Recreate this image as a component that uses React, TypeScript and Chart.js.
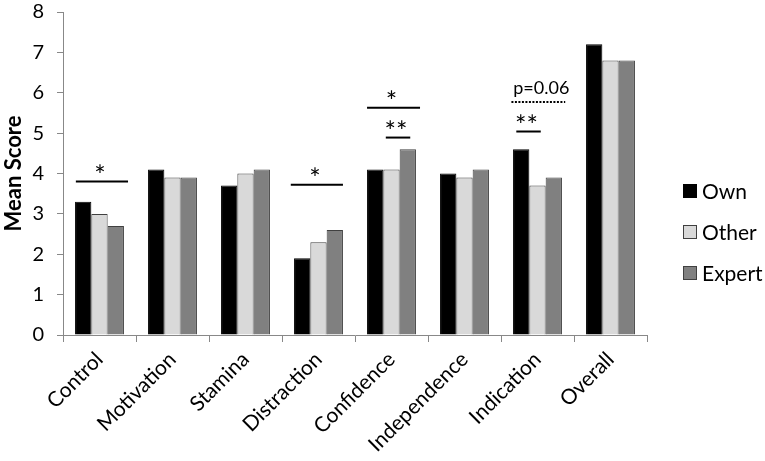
import { useEffect, useRef } from 'react';
import { Chart, registerables } from 'chart.js';

Chart.register(...registerables);

const categories = ['Control', 'Motivation', 'Stamina', 'Distraction', 'Confidence', 'Independence', 'Indication', 'Overall'];
const seriesNames = ['Own', 'Other', 'Expert'];
const ownScores = [3.3, 4.1, 3.7, 1.9, 4.1, 4.0, 4.6, 7.2];
const otherScores = [3.0, 3.9, 4.0, 2.3, 4.1, 3.9, 3.7, 6.8];
const expertScores = [2.7, 3.9, 4.1, 2.6, 4.6, 4.1, 3.9, 6.8];

// significance brackets: category, height (score units), span in bar widths, label
const sigCategory = [0, 3, 4, 4, 6, 6];
const sigLevel = [3.8, 3.72, 5.63, 4.89, 5.77, 5.04];
const sigFrom = [-0.45, -0.7, -0.5, 0.65, -0.6, -0.3];
const sigTo = [2.75, 2.5, 2.75, 2.15, 2.7, 1.2];
const sigLabel = ['*', '*', '*', '**', 'p=0.06', '**'];
const sigDotted = [false, false, false, false, true, false];

const FONT = 'Lato, "Open Sans", sans-serif';
const fills = ['#000000', '#d9d9d9', '#808080'];
const borders = ['#000000', '#404040', '#404040'];

const sigPlugin = {
  id: 'sigBrackets',
  afterDatasetsDraw(chart: any) {
    const ctx = chart.ctx;
    const yScale = chart.scales.y;
    const meta = chart.getDatasetMeta(0);
    ctx.save();
    for (let i = 0; i < sigCategory.length; i++) {
      const bar = meta.data[sigCategory[i]];
      if (!bar) continue;
      const w = bar.width;
      const x0 = bar.x + sigFrom[i] * w;
      const x1 = bar.x + sigTo[i] * w;
      const y = yScale.getPixelForValue(sigLevel[i]);
      ctx.beginPath();
      ctx.strokeStyle = '#000';
      ctx.lineWidth = 2;
      ctx.setLineDash(sigDotted[i] ? [2, 1.5] : []);
      ctx.moveTo(x0, y);
      ctx.lineTo(x1, y);
      ctx.stroke();
      ctx.setLineDash([]);
      ctx.fillStyle = '#000';
      ctx.textAlign = 'center';
      ctx.textBaseline = 'alphabetic';
      const cx = (x0 + x1) / 2;
      if (sigLabel[i].startsWith('p')) {
        ctx.font = '18px ' + FONT;
        ctx.fillText(sigLabel[i], cx + 3, y - 8);
      } else {
        ctx.font = '27px ' + FONT;
        ctx.fillText(sigLabel[i], cx - 2, y + 3);
      }
    }
    ctx.restore();
  },
};

export default function App() {
  const canvasRef = useRef<HTMLCanvasElement | null>(null);
  const chartRef = useRef<Chart | null>(null);

  useEffect(() => {
    if (!canvasRef.current) return;
    if (chartRef.current) chartRef.current.destroy();

    const data = [ownScores, otherScores, expertScores];
    chartRef.current = new Chart(canvasRef.current, {
      type: 'bar',
      data: {
        labels: categories,
        datasets: seriesNames.map((name, i) => ({
          label: name,
          data: data[i],
          backgroundColor: fills[i],
          borderColor: borders[i],
          borderWidth: 1,
          barPercentage: 1,
          categoryPercentage: 0.67,
        })),
      },
      options: {
        animation: false,
        responsive: true,
        maintainAspectRatio: false,
        layout: { padding: { top: 0, right: 118, bottom: 0, left: 0 } },
        plugins: {
          legend: { display: false },
          tooltip: { enabled: false },
        },
        scales: {
          x: {
            grid: {
              display: true,
              offset: true,
              drawOnChartArea: false,
              drawTicks: true,
              tickLength: 7,
              color: '#888888',
            },
            border: { color: '#888888', width: 1 },
            ticks: {
              color: '#000',
              font: { family: FONT, size: 21 },
              maxRotation: 45,
              minRotation: 45,
              padding: 5,
            },
            afterFit(scale: any) {
              scale.height = 126;
            },
          },
          y: {
            min: 0,
            max: 8,
            grid: {
              drawOnChartArea: false,
              drawTicks: true,
              tickLength: 6,
              color: '#888888',
            },
            border: { color: '#888888', width: 1 },
            ticks: {
              stepSize: 1,
              color: '#000',
              font: { family: FONT, size: 20 },
              padding: 13,
            },
            title: {
              display: true,
              text: 'Mean Score',
              color: '#000',
              font: { family: FONT, size: 22, weight: 'bold' },
              padding: { top: 1, bottom: 4 },
            },
            afterFit(scale: any) {
              scale.width = 63;
              scale.paddingTop = 12;
              scale.paddingBottom = 0;
            },
          },
        },
      },
      plugins: [sigPlugin],
    });

    return () => {
      if (chartRef.current) {
        chartRef.current.destroy();
        chartRef.current = null;
      }
    };
  }, []);

  return (
    <div style={{ position: 'fixed', left: 0, top: 0, width: 765, height: 461, background: '#fff' }}>
      <canvas ref={canvasRef}></canvas>
      <div style={{ position: 'absolute', left: 683, top: 170, fontFamily: FONT, fontSize: 21, color: '#000' }}>
        {seriesNames.map((name, i) => (
          <div key={name} style={{ display: 'flex', alignItems: 'center', height: 41 }}>
            <span
              style={{
                display: 'inline-block',
                width: 14,
                height: 14,
                boxSizing: 'border-box',
                background: fills[i],
                border: '1px solid ' + borders[i],
                marginRight: 5,
              }}
            />
            <span>{name}</span>
          </div>
        ))}
      </div>
    </div>
  );
}
